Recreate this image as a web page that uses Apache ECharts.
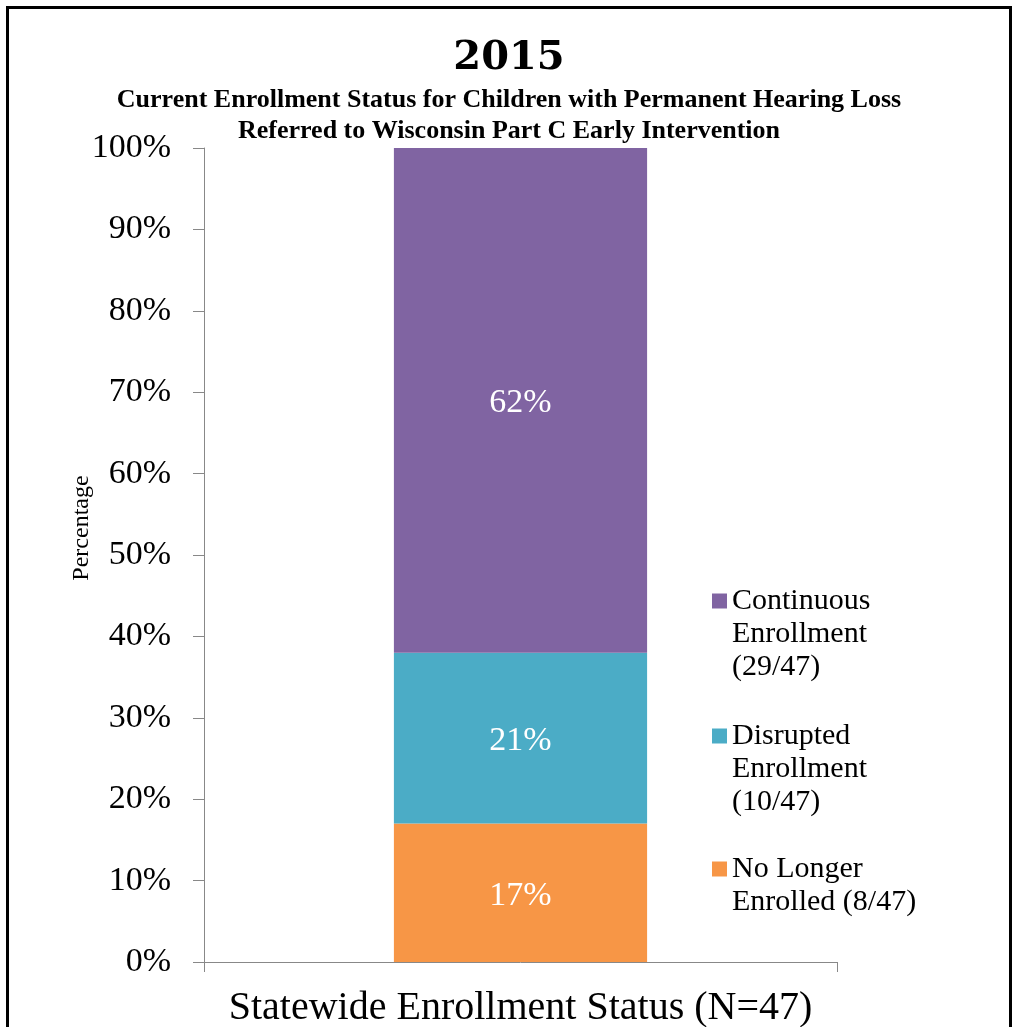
<!DOCTYPE html>
<html>
<head>
<meta charset="utf-8">
<script src="https://cdn.jsdelivr.net/npm/echarts@6/dist/echarts.min.js"></script>
<style>
  html, body { margin: 0; padding: 0; background: #fff; }
  #chart { width: 1018px; height: 1027px; }
</style>
</head>
<body>
<div id="chart"></div>
<script>
// ---- data ----
const categories = ['Statewide'];
const seriesNames = ['No Longer Enrolled (8/47)', 'Disrupted Enrollment (10/47)', 'Continuous Enrollment (29/47)'];
const noLongerEnrolled = [17];
const disruptedEnrollment = [21];
const continuousEnrollment = [62];
const legendLabels = ['No Longer\nEnrolled (8/47)', 'Disrupted\nEnrollment\n(10/47)', 'Continuous\nEnrollment\n(29/47)'];
const yTickLabels = ['0%', '10%', '20%', '30%', '40%', '50%', '60%', '70%', '80%', '90%', '100%'];
const titleText = '2015';
const subtitleLines = ['Current Enrollment Status for Children with Permanent Hearing Loss', 'Referred to Wisconsin Part C Early Intervention'];
const xAxisTitle = 'Statewide Enrollment Status (N=47)';
const yAxisTitle = 'Percentage';

const colors = ['#F79646', '#4BACC6', '#8064A2'];
const serif = 'Liberation Serif';
const LH = 33;

function legendFor(idx, top) {
  const lines = legendLabels[idx].split('\n').length;
  const pad = new Array(lines).join('\n'); // lines-1 leading blank lines keeps icon on first line
  return {
    data: [seriesNames[idx]],
    orient: 'vertical',
    left: 712,
    top: top - (2 * lines - 1) * LH / 2,
    padding: 0,
    itemWidth: 15,
    itemHeight: 15,
    selectedMode: false,
    icon: 'rect',
    formatter: () => pad + legendLabels[idx],
    textStyle: { fontFamily: serif, fontSize: 30, lineHeight: LH, color: '#000' }
  };
}

const seriesData = [noLongerEnrolled, disruptedEnrollment, continuousEnrollment];

const option = {
  animation: false,
  backgroundColor: '#fff',
  title: [
    {
      text: titleText,
      left: 'center',
      top: 37,
      padding: 0,
      textStyle: { fontFamily: 'DejaVu Serif', fontWeight: 'bold', fontSize: 40, lineHeight: 44, color: '#000' }
    },
    {
      text: subtitleLines[0],
      left: 'center',
      top: 85,
      padding: 0,
      textStyle: { fontFamily: serif, fontWeight: 'bold', fontSize: 26, lineHeight: 31, color: '#000' }
    },
    {
      text: subtitleLines[1],
      left: 'center',
      top: 116,
      padding: 0,
      textStyle: { fontFamily: serif, fontWeight: 'bold', fontSize: 26, lineHeight: 31, color: '#000' }
    }
  ],
  legend: [legendFor(2, 601), legendFor(1, 736), legendFor(0, 869)],
  grid: { left: 204, right: 181, top: 148, bottom: 65, containLabel: false, outerBoundsMode: 'none' },
  xAxis: [
    {
      type: 'category',
      data: categories,
      boundaryGap: true,
      name: xAxisTitle,
      nameLocation: 'middle',
      nameGap: 26,
      nameTextStyle: { fontFamily: serif, fontSize: 40, color: '#000' },
      axisLine: { show: true, lineStyle: { color: '#888', width: 1 } },
      axisTick: { show: false },
      axisLabel: { show: false }
    },
    {
      // boundary ticks at both ends of the category band
      type: 'value',
      position: 'bottom',
      min: 0,
      max: 1,
      interval: 1,
      axisLine: { show: false },
      axisTick: { show: true, length: 10, lineStyle: { color: '#888' } },
      axisLabel: { show: false },
      splitLine: { show: false }
    }
  ],
  yAxis: {
    type: 'value',
    min: 0,
    max: 100,
    interval: 10,
    axisLine: { show: true, lineStyle: { color: '#888', width: 1 } },
    axisTick: { show: true, length: 11, lineStyle: { color: '#888' } },
    splitLine: { show: false },
    axisLabel: {
      margin: 33,
      fontFamily: serif,
      fontSize: 34,
      color: '#000',
      formatter: (v) => yTickLabels[Math.round(v / 10)]
    }
  },
  series: seriesData.map((d, i) => ({
    name: seriesNames[i],
    type: 'bar',
    stack: 'total',
    xAxisIndex: 0,
    data: d,
    barWidth: '40%',
    itemStyle: { color: colors[i] },
    label: {
      show: true,
      position: 'inside',
      offset: [0, 3],
      formatter: '{c}%',
      fontFamily: serif,
      fontSize: 34,
      color: '#fff'
    }
  })),
  graphic: [
    {
      type: 'rect',
      silent: true,
      shape: { x: 7.5, y: 7.5, width: 1003, height: 1100 },
      style: { fill: 'none', stroke: '#000', lineWidth: 3 }
    },
    {
      type: 'text',
      silent: true,
      x: 82,
      y: 528,
      rotation: Math.PI / 2,
      style: { text: yAxisTitle, fontFamily: serif, fontSize: 24, fill: '#000', align: 'center', verticalAlign: 'middle' }
    }
  ]
};

const chart = echarts.init(document.getElementById('chart'), null, { renderer: 'canvas' });
chart.setOption(option);
</script>
</body>
</html>
